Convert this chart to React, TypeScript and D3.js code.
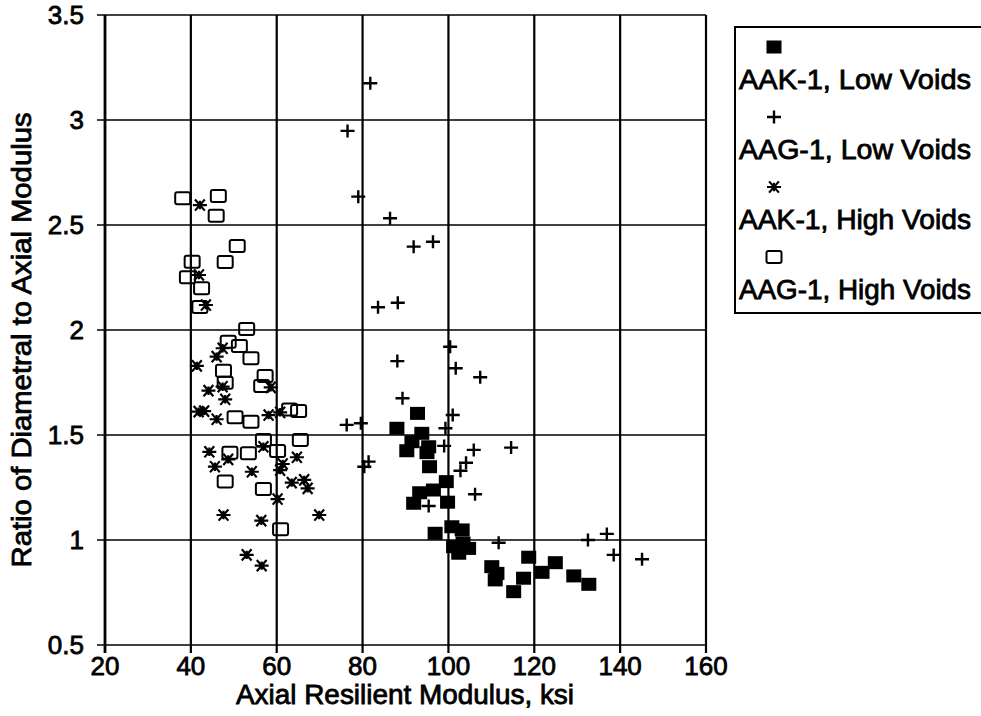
import React, { useEffect, useRef } from "react";
import * as d3 from "d3";

// AAK-1, Low Voids (filled squares)
const aakLowX = [92.8, 88.0, 93.8, 91.5, 90.3, 95.4, 95.0, 95.6, 99.5, 96.5, 93.3, 91.9, 99.8, 96.9, 100.8, 103.2, 101.2, 104.7, 102.4, 110.1, 111.3, 118.7, 110.9, 115.2, 117.5, 121.8, 124.9, 129.2, 132.7, 103.4];
const aakLowY = [1.603, 1.532, 1.508, 1.468, 1.425, 1.444, 1.416, 1.349, 1.278, 1.238, 1.225, 1.175, 1.18, 1.032, 1.063, 1.048, 0.968, 0.96, 0.937, 0.873, 0.841, 0.918, 0.81, 0.754, 0.818, 0.846, 0.892, 0.829, 0.789, 0.986];

// AAG-1, Low Voids (plus)
const aagLowX = [81.8, 76.5, 79.0, 86.4, 91.9, 96.4, 83.6, 88.2, 100.4, 101.7, 107.4, 88.1, 89.3, 101.0, 76.3, 79.6, 99.3, 99.0, 105.9, 114.6, 104.1, 102.8, 81.4, 80.4, 106.2, 95.4, 111.7, 132.5, 136.9, 138.5, 145.1];
const aagLowY = [3.175, 2.948, 2.635, 2.532, 2.397, 2.42, 2.108, 2.13, 1.92, 1.818, 1.775, 1.852, 1.675, 1.595, 1.548, 1.556, 1.532, 1.448, 1.429, 1.44, 1.368, 1.33, 1.373, 1.349, 1.218, 1.162, 0.987, 1.0, 1.029, 0.929, 0.908];

// AAK-1, High Voids (asterisk)
const aakHighX = [42.1, 41.9, 43.5, 47.4, 46.0, 41.4, 47.4, 58.6, 44.1, 48.0, 41.8, 43.1, 46.0, 58.1, 60.8, 56.9, 44.3, 48.7, 64.7, 45.6, 61.4, 54.2, 60.8, 63.5, 66.4, 67.2, 60.2, 47.6, 56.4, 69.9, 53.0, 56.5];
const aakHighY = [2.595, 2.262, 2.119, 1.913, 1.873, 1.829, 1.73, 1.727, 1.711, 1.67, 1.611, 1.614, 1.575, 1.595, 1.608, 1.444, 1.42, 1.384, 1.394, 1.349, 1.362, 1.325, 1.333, 1.273, 1.286, 1.246, 1.195, 1.119, 1.092, 1.119, 0.929, 0.878];

// AAG-1, High Voids (open squares)
const aagHighX = [38.1, 46.4, 45.9, 50.8, 48.0, 40.3, 39.2, 42.5, 42.1, 53.0, 48.7, 51.3, 54.0, 47.6, 57.3, 48.0, 56.5, 50.3, 54.0, 63.0, 65.1, 56.9, 65.5, 49.1, 53.4, 60.2, 48.0, 56.9, 60.9];
const aagHighY = [2.627, 2.638, 2.544, 2.4, 2.324, 2.325, 2.251, 2.199, 2.109, 2.005, 1.944, 1.924, 1.865, 1.806, 1.781, 1.749, 1.733, 1.584, 1.563, 1.622, 1.614, 1.476, 1.476, 1.416, 1.413, 1.424, 1.278, 1.243, 1.051];

const xTicks = [20, 40, 60, 80, 100, 120, 140, 160];
const yTicks = [0.5, 1, 1.5, 2, 2.5, 3, 3.5];
const yTickLabels = ["0.5", "1", "1.5", "2", "2.5", "3", "3.5"];
const legendLabels = ["AAK-1, Low Voids", "AAG-1, Low Voids", "AAK-1, High Voids", "AAG-1, High Voids"];

const FONT = "'Liberation Sans', Arial, Helvetica, sans-serif";

type Kind = "filled" | "plus" | "star" | "open";

function drawMarker(g: d3.Selection<SVGGElement, unknown, null, undefined>, kind: Kind, cx: number, cy: number) {
  if (kind === "filled") {
    g.append("rect").attr("x", cx - 7.5).attr("y", cy - 6.5).attr("width", 15).attr("height", 13).attr("fill", "#000");
  } else if (kind === "open") {
    g.append("rect").attr("x", cx - 7.5).attr("y", cy - 6).attr("width", 15).attr("height", 12).attr("rx", 2)
      .attr("fill", "none").attr("stroke", "#000").attr("stroke-width", 2);
  } else if (kind === "plus") {
    const p = d3.path();
    p.moveTo(cx - 7, cy); p.lineTo(cx + 7, cy);
    p.moveTo(cx, cy - 6.5); p.lineTo(cx, cy + 6.5);
    g.append("path").attr("d", p.toString()).attr("stroke", "#000").attr("stroke-width", 2.4).attr("fill", "none");
  } else {
    const p = d3.path();
    const r = 7;
    p.moveTo(cx - r, cy); p.lineTo(cx + r, cy);
    p.moveTo(cx - r * 0.7, cy - r * 0.8); p.lineTo(cx + r * 0.7, cy + r * 0.8);
    p.moveTo(cx - r * 0.7, cy + r * 0.8); p.lineTo(cx + r * 0.7, cy - r * 0.8);
    p.moveTo(cx, cy - r * 0.6); p.lineTo(cx, cy + r * 0.6);
    g.append("path").attr("d", p.toString()).attr("stroke", "#000").attr("stroke-width", 2.2).attr("fill", "none");
  }
}

export default function App() {
  const ref = useRef<SVGSVGElement>(null);

  useEffect(() => {
    const svg = d3.select(ref.current!);
    svg.selectAll("*").remove();

    const x = d3.scaleLinear().domain([20, 160]).range([105, 706]);
    const y = d3.scaleLinear().domain([0.5, 3.5]).range([645, 15]);

    const grid = svg.append("g");
    xTicks.forEach((t) => {
      grid.append("line").attr("x1", x(t)).attr("x2", x(t)).attr("y1", y(3.5)).attr("y2", y(0.5) + 8)
        .attr("stroke", "#000").attr("stroke-width", t === 20 ? 2.8 : 2.2);
    });
    yTicks.forEach((t) => {
      grid.append("line").attr("x1", x(20) - 8).attr("x2", x(160)).attr("y1", y(t)).attr("y2", y(t))
        .attr("stroke", "#000").attr("stroke-width", 1.7);
    });

    const tl = svg.append("g").attr("font-family", FONT).attr("fill", "#000")
      .attr("stroke", "#000").attr("stroke-width", 0.8);
    xTicks.forEach((t) => {
      tl.append("text").attr("x", x(t)).attr("y", 675).attr("font-size", 26).attr("text-anchor", "middle").text(String(t));
    });
    yTicks.forEach((t, i) => {
      tl.append("text").attr("x", 84).attr("y", y(t) + 9).attr("font-size", 26).attr("text-anchor", "end").text(yTickLabels[i]);
    });

    tl.append("text").attr("x", 405).attr("y", 704).attr("font-size", 27).attr("text-anchor", "middle")
      .attr("textLength", 338).attr("lengthAdjust", "spacingAndGlyphs").text("Axial Resilient Modulus, ksi");
    tl.append("text").attr("transform", `translate(31,340) rotate(-90)`).attr("font-size", 27).attr("text-anchor", "middle")
      .attr("textLength", 455).attr("lengthAdjust", "spacingAndGlyphs")
      .text("Ratio of Diametral to Axial Modulus");

    const marks = svg.append("g");
    const series: [number[], number[], Kind][] = [
      [aagHighX, aagHighY, "open"],
      [aakHighX, aakHighY, "star"],
      [aagLowX, aagLowY, "plus"],
      [aakLowX, aakLowY, "filled"],
    ];
    series.forEach(([xs, ys, k]) => {
      xs.forEach((v, i) => drawMarker(marks, k, x(v), y(ys[i])));
    });

    const lg = svg.append("g");
    lg.append("rect").attr("x", 735).attr("y", 27).attr("width", 300).attr("height", 286)
      .attr("fill", "#fff").attr("stroke", "#000").attr("stroke-width", 2);
    const kinds: Kind[] = ["filled", "plus", "star", "open"];
    kinds.forEach((k, i) => {
      const sy = 47 + i * 70;
      drawMarker(lg, k, 774, sy);
      lg.append("text").attr("x", 739).attr("y", sy + 42).attr("font-family", FONT).attr("font-size", 27)
        .attr("stroke", "#000").attr("stroke-width", 0.8)
        .attr("textLength", 232).attr("lengthAdjust", "spacingAndGlyphs")
        .text(legendLabels[i]);
    });
  }, []);

  return (
    <div style={{ position: "absolute", left: 0, top: 0, width: 981, height: 716, background: "#fff" }}>
      <svg ref={ref} width={981} height={716} style={{ display: "block" }} />
    </div>
  );
}
